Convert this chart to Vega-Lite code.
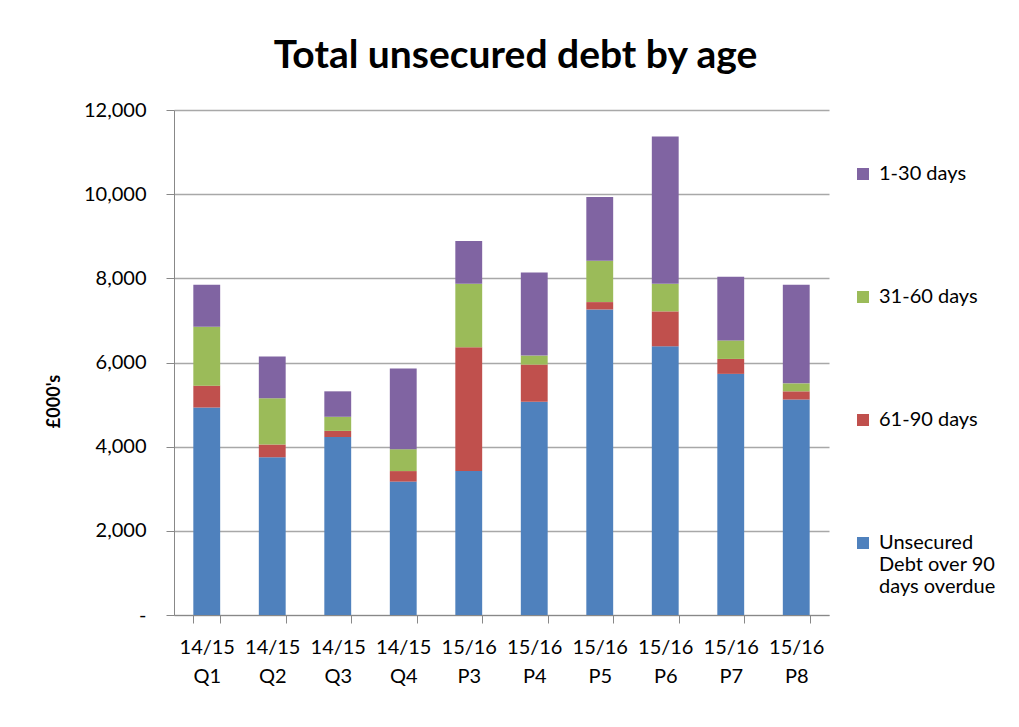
{
  "$schema": "https://vega.github.io/schema/vega-lite/v6.json",
  "width": 655,
  "height": 505,
  "autosize": {"type": "none"},
  "padding": {"left": 174, "top": 110, "right": 190, "bottom": 112},
  "background": "white",
  "config": {"view": {"stroke": null}},
  "title": {
    "text": "Total unsecured debt by age",
    "font": "Lato",
    "fontSize": 39,
    "fontWeight": "bold",
    "color": "black",
    "anchor": "middle",
    "frame": "group",
    "dx": 14,
    "offset": 24
  },
  "data": {
    "values": [
      {"period": "14/15 Q1", "category": "Unsecured Debt over 90 days overdue", "value": 4930},
      {"period": "14/15 Q1", "category": "61-90 days", "value": 520},
      {"period": "14/15 Q1", "category": "31-60 days", "value": 1400},
      {"period": "14/15 Q1", "category": "1-30 days", "value": 1000},
      {"period": "14/15 Q2", "category": "Unsecured Debt over 90 days overdue", "value": 3750},
      {"period": "14/15 Q2", "category": "61-90 days", "value": 300},
      {"period": "14/15 Q2", "category": "31-60 days", "value": 1100},
      {"period": "14/15 Q2", "category": "1-30 days", "value": 990},
      {"period": "14/15 Q3", "category": "Unsecured Debt over 90 days overdue", "value": 4230},
      {"period": "14/15 Q3", "category": "61-90 days", "value": 145},
      {"period": "14/15 Q3", "category": "31-60 days", "value": 335},
      {"period": "14/15 Q3", "category": "1-30 days", "value": 605},
      {"period": "14/15 Q4", "category": "Unsecured Debt over 90 days overdue", "value": 3170},
      {"period": "14/15 Q4", "category": "61-90 days", "value": 250},
      {"period": "14/15 Q4", "category": "31-60 days", "value": 520},
      {"period": "14/15 Q4", "category": "1-30 days", "value": 1920},
      {"period": "15/16 P3", "category": "Unsecured Debt over 90 days overdue", "value": 3420},
      {"period": "15/16 P3", "category": "61-90 days", "value": 2940},
      {"period": "15/16 P3", "category": "31-60 days", "value": 1510},
      {"period": "15/16 P3", "category": "1-30 days", "value": 1015},
      {"period": "15/16 P4", "category": "Unsecured Debt over 90 days overdue", "value": 5065},
      {"period": "15/16 P4", "category": "61-90 days", "value": 885},
      {"period": "15/16 P4", "category": "31-60 days", "value": 215},
      {"period": "15/16 P4", "category": "1-30 days", "value": 1975},
      {"period": "15/16 P5", "category": "Unsecured Debt over 90 days overdue", "value": 7260},
      {"period": "15/16 P5", "category": "61-90 days", "value": 175},
      {"period": "15/16 P5", "category": "31-60 days", "value": 985},
      {"period": "15/16 P5", "category": "1-30 days", "value": 1510},
      {"period": "15/16 P6", "category": "Unsecured Debt over 90 days overdue", "value": 6385},
      {"period": "15/16 P6", "category": "61-90 days", "value": 830},
      {"period": "15/16 P6", "category": "31-60 days", "value": 655},
      {"period": "15/16 P6", "category": "1-30 days", "value": 3500},
      {"period": "15/16 P7", "category": "Unsecured Debt over 90 days overdue", "value": 5730},
      {"period": "15/16 P7", "category": "61-90 days", "value": 355},
      {"period": "15/16 P7", "category": "31-60 days", "value": 440},
      {"period": "15/16 P7", "category": "1-30 days", "value": 1515},
      {"period": "15/16 P8", "category": "Unsecured Debt over 90 days overdue", "value": 5120},
      {"period": "15/16 P8", "category": "61-90 days", "value": 195},
      {"period": "15/16 P8", "category": "31-60 days", "value": 190},
      {"period": "15/16 P8", "category": "1-30 days", "value": 2345}
    ]
  },
  "mark": {"type": "bar"},
  "encoding": {
    "x": {
      "field": "period",
      "type": "nominal",
      "sort": null,
      "scale": {"paddingInner": 0.59, "paddingOuter": 0.295},
      "axis": {
        "title": null,
        "labelAngle": 0,
        "labelExpr": "split(datum.label, ' ')",
        "labelFont": "Lato",
        "labelFontSize": 20,
        "labelColor": "black",
        "labelLineHeight": 29,
        "labelPadding": 14,
        "tickBand": "extent",
        "tickSize": 8,
        "tickColor": "#888888",
        "domainColor": "#888888"
      }
    },
    "y": {
      "field": "value",
      "type": "quantitative",
      "stack": "zero",
      "scale": {"domain": [0, 12000], "nice": false},
      "axis": {
        "values": [0, 2000, 4000, 6000, 8000, 10000, 12000],
        "labelExpr": "datum.value == 0 ? '-' : format(datum.value, ',')",
        "labelFont": "Lato",
        "labelFontSize": 20,
        "labelColor": "black",
        "labelPadding": 20,
        "tickSize": 8,
        "tickColor": "#888888",
        "domainColor": "#888888",
        "grid": true,
        "gridColor": "#a8a8a8",
        "gridWidth": 1.5,
        "title": "£000's",
        "titleFont": "Lato",
        "titleFontSize": 18,
        "titleFontWeight": "bold",
        "titleColor": "black",
        "titleX": -111,
        "titleY": 291
      }
    },
    "color": {
      "field": "category",
      "type": "nominal",
      "scale": {
        "domain": ["1-30 days", "31-60 days", "61-90 days", "Unsecured Debt over 90 days overdue"],
        "range": ["#8064A2", "#9BBB59", "#C0504D", "#4F81BD"]
      },
      "legend": {
        "title": null,
        "orient": "none",
        "legendX": 679,
        "legendY": 54,
        "padding": 0,
        "symbolType": "square",
        "symbolSize": 144,
        "symbolStrokeWidth": 0,
        "labelFont": "Lato",
        "labelFontSize": 20,
        "labelColor": "black",
        "labelLimit": 200,
        "labelOffset": 6,
        "labelExpr": "datum.label == 'Unsecured Debt over 90 days overdue' ? ['Unsecured', 'Debt over 90', 'days overdue'] : datum.label",
        "rowPadding": 103
      }
    },
    "order": {"field": "category", "sort": "descending"}
  }
}
